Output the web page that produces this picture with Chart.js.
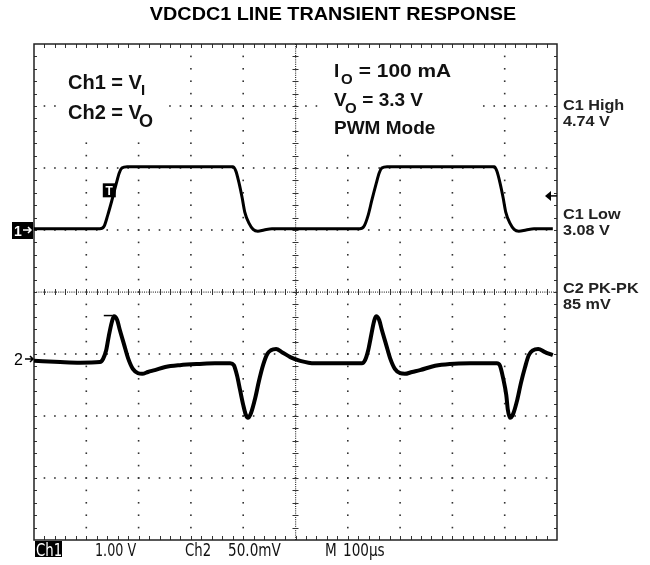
<!DOCTYPE html>
<html>
<head>
<meta charset="utf-8">
<script src="https://cdn.jsdelivr.net/npm/chart.js@4.4.1/dist/chart.umd.min.js"></script>
<style>
html,body{margin:0;padding:0;background:#fff;}
#wrap{width:650px;height:565px;}
</style>
</head>
<body>
<div id="wrap"><canvas id="c" width="650" height="565"></canvas></div>
<script>
// ---- data (time in µs, vertical position in screen divisions) ----
const titleText = 'VDCDC1 LINE TRANSIENT RESPONSE';
const xDivCount = 10;     // horizontal divisions (100 µs each)
const yDivCount = 8;      // vertical divisions
const timePerDiv = 100;   // µs

const ch1Time = [0,126,134,141,149,157,163,168,178,380,386,392,398,403,411,419,428,440,455,623,631,639,646,654,660,665,675,880,885,891,897,902,910,918,927,941,956,992];
const ch1Div  = [1.02,1.02,1.06,1.24,1.48,1.74,1.92,2.0,2.02,2.02,1.95,1.76,1.52,1.29,1.11,1.01,0.98,1.0,1.02,1.02,1.06,1.24,1.48,1.74,1.92,2.0,2.02,2.02,1.95,1.76,1.52,1.29,1.11,1.01,0.98,1.0,1.02,1.02];

const ch2Time = [0,50,88,126,132,138,143,149,153,159,164,172,180,189,199,207,218,231,251,279,317,346,375,382,388,394,400,405,409,415,423,430,438,446,453,463,474,490,509,537,627,633,639,644,650,654,660,665,673,681,690,700,709,723,738,767,795,834,885,891,897,903,906,910,916,924,931,939,946,954,964,977,992];
const ch2Div  = [-1.11,-1.13,-1.14,-1.13,-1.08,-0.94,-0.71,-0.48,-0.39,-0.45,-0.61,-0.84,-1.07,-1.24,-1.31,-1.32,-1.29,-1.26,-1.21,-1.18,-1.16,-1.15,-1.15,-1.18,-1.34,-1.58,-1.82,-1.98,-2.03,-1.95,-1.71,-1.44,-1.18,-1.0,-0.94,-0.92,-0.97,-1.05,-1.11,-1.15,-1.15,-1.10,-0.94,-0.73,-0.48,-0.39,-0.45,-0.61,-0.84,-1.07,-1.24,-1.31,-1.32,-1.29,-1.26,-1.19,-1.16,-1.15,-1.15,-1.19,-1.39,-1.66,-1.90,-2.03,-1.97,-1.74,-1.47,-1.21,-1.02,-0.94,-0.92,-0.97,-1.02];

const ch1Marker = 1.0;    // ground marker level of Ch1 (div)
const ch2Marker = -1.08;  // ground marker level of Ch2 (div)
const trigLevel = 1.55;   // trigger level arrow (div)
const trigTime = 143;     // trigger point (µs)
const trigBoxLevel = 1.64;

const leftLabels = [['Ch1 = V','I'],['Ch2 = V','O']];
const infoLabels = [['I','O',' = 100 mA'],['V','O',' = 3.3 V'],['PWM Mode','','']];
const sideLabels = [['C1 High','4.74 V'],['C1 Low','3.08 V'],['C2 PK-PK','85 mV']];
const bottomLabels = ['Ch1','1.00 V','Ch2','50.0mV','M','100\u00b5s'];

// ---- drawing helpers ----
function txt(ctx, s, x, y, font, color, sx, align){
  ctx.save();
  ctx.font = font; ctx.fillStyle = color; ctx.textBaseline = 'alphabetic';
  ctx.textAlign = align || 'left';
  ctx.translate(x, y); ctx.scale(sx || 1, 1);
  ctx.fillText(s, 0, 0);
  ctx.restore();
}

const graticule = {
  id: 'graticule',
  beforeDatasetsDraw(chart){
    const {ctx, chartArea: a, scales: {x, y}} = chart;
    ctx.save();
    ctx.fillStyle = '#333';
    const minorX = timePerDiv / 5, minorY = 0.2;
    // horizontal dotted lines
    for (let d = -yDivCount/2 + 1; d < yDivCount/2; d++) {
      const py = y.getPixelForValue(d);
      if (d === 0) continue;
      for (let t = minorX; t < xDivCount*timePerDiv; t += minorX) {
        ctx.fillRect(x.getPixelForValue(t) - 0.8, py - 0.8, 1.6, 1.6);
      }
    }
    // vertical dotted lines
    for (let k = 1; k < xDivCount; k++) {
      if (k === xDivCount/2) continue;
      const px = x.getPixelForValue(k*timePerDiv);
      for (let v = -yDivCount/2 + minorY; v < yDivCount/2 - 0.01; v += minorY) {
        ctx.fillRect(px - 0.8, y.getPixelForValue(v) - 0.8, 1.6, 1.6);
      }
    }
    // centre cross
    const cy = y.getPixelForValue(0), cx = x.getPixelForValue(xDivCount*timePerDiv/2);
    for (let p = a.left; p < a.right; p += 2.2) ctx.fillRect(p, cy - 0.5, 1, 1.2);
    for (let p = a.top; p < a.bottom; p += 2.2) ctx.fillRect(cx - 0.5, p, 1.2, 1);
    ctx.strokeStyle = '#333'; ctx.lineWidth = 1;
    ctx.beginPath();
    for (let t = minorX; t < xDivCount*timePerDiv; t += minorX) {
      const px = Math.round(x.getPixelForValue(t)) + 0.5;
      ctx.moveTo(px, cy - 3); ctx.lineTo(px, cy + 3);
      ctx.moveTo(px, a.top); ctx.lineTo(px, a.top + 4);
      ctx.moveTo(px, a.bottom); ctx.lineTo(px, a.bottom - 4);
    }
    for (let v = -yDivCount/2 + minorY; v < yDivCount/2 - 0.01; v += minorY) {
      const py = Math.round(y.getPixelForValue(v)) + 0.5;
      ctx.moveTo(cx - 3, py); ctx.lineTo(cx + 3, py);
      ctx.moveTo(a.left, py); ctx.lineTo(a.left + 3, py);
      ctx.moveTo(a.right, py); ctx.lineTo(a.right - 3, py);
    }
    ctx.stroke();
    // white label backgrounds
    ctx.fillStyle = '#fff';
    ctx.fillRect(58, 52, 108, 86);
    ctx.fillRect(322, 50, 158, 100);
    // frame
    ctx.strokeStyle = '#222'; ctx.lineWidth = 1.5;
    ctx.strokeRect(a.left, a.top, a.right - a.left, a.bottom - a.top);
    ctx.restore();
  },
  afterDraw(chart){
    const {ctx, chartArea: a, scales: {x, y}} = chart;
    const B = 'bold ';
    // title
    txt(ctx, titleText, 333, 20, B + '18px "Liberation Sans", Arial, sans-serif', '#000', 1.1, 'center');
    // left block
    const f20 = B + '20px "Liberation Sans", Arial, sans-serif';
    txt(ctx, leftLabels[0][0], 68, 89, f20, '#111');
    txt(ctx, leftLabels[0][1], 141, 95, B + '15px "Liberation Sans", Arial, sans-serif', '#111');
    txt(ctx, leftLabels[1][0], 68, 119, f20, '#111');
    txt(ctx, leftLabels[1][1], 139, 127, B + '18px "Liberation Sans", Arial, sans-serif', '#111');
    // info block
    const f19 = B + '19px "Liberation Sans", Arial, sans-serif';
    const f15 = B + '15px "Liberation Sans", Arial, sans-serif';
    txt(ctx, infoLabels[0][0], 334, 77, f19, '#111');
    txt(ctx, infoLabels[0][1], 341, 84, f15, '#111');
    txt(ctx, infoLabels[0][2], 353, 77, f19, '#111', 1.1);
    txt(ctx, infoLabels[1][0], 334, 106, f19, '#111');
    txt(ctx, infoLabels[1][1], 345, 113, f15, '#111');
    txt(ctx, infoLabels[1][2], 357, 106, f19, '#111');
    txt(ctx, infoLabels[2][0], 334, 134, f19, '#111');
    // side labels
    const f16 = B + '15px "Liberation Sans", Arial, sans-serif';
    const sideY = [[110,126],[219,235],[293,309]];
    sideLabels.forEach((l, i) => {
      txt(ctx, l[0], 563, sideY[i][0], f16, '#222', 1.08);
      txt(ctx, l[1], 563, sideY[i][1], f16, '#222', 1.08);
    });
    // channel markers
    const m1 = y.getPixelForValue(ch1Marker);
    ctx.fillStyle = '#000';
    ctx.fillRect(12, m1 - 8, 21, 17);
    txt(ctx, '1', 14, m1 + 6, B + '14px "Liberation Sans", Arial, sans-serif', '#fff');
    ctx.strokeStyle = '#fff'; ctx.lineWidth = 1.5; ctx.beginPath();
    ctx.moveTo(23, m1); ctx.lineTo(31, m1); ctx.moveTo(28, m1 - 3); ctx.lineTo(31, m1); ctx.lineTo(28, m1 + 3); ctx.stroke();
    const m2 = y.getPixelForValue(ch2Marker);
    txt(ctx, '2', 14, m2 + 6, '16px "Liberation Sans", Arial, sans-serif', '#000');
    ctx.strokeStyle = '#000'; ctx.beginPath();
    ctx.moveTo(25, m2); ctx.lineTo(33, m2); ctx.moveTo(30, m2 - 3); ctx.lineTo(33, m2); ctx.lineTo(30, m2 + 3); ctx.stroke();
    // trigger level arrow (right)
    const tl = y.getPixelForValue(trigLevel);
    ctx.fillStyle = '#000'; ctx.beginPath();
    ctx.moveTo(545, tl); ctx.lineTo(551, tl - 5); ctx.lineTo(551, tl + 5); ctx.closePath(); ctx.fill();
    ctx.lineWidth = 1.5; ctx.beginPath(); ctx.moveTo(550, tl); ctx.lineTo(a.right, tl); ctx.stroke();
    // trigger box "T"
    const tx = x.getPixelForValue(trigTime), ty = y.getPixelForValue(trigBoxLevel);
    ctx.fillStyle = '#000'; ctx.fillRect(tx - 6, ty - 7, 13, 14);
    txt(ctx, 'T', tx + 0.5, ty + 5, B + '12px "Liberation Sans", Arial, sans-serif', '#fff', 1, 'center');
    // small T cursor on ch2 peak
    const tp = y.getPixelForValue(-0.38);
    ctx.strokeStyle = '#000'; ctx.lineWidth = 1.5; ctx.beginPath();
    ctx.moveTo(tx - 5, tp); ctx.lineTo(tx + 4, tp); ctx.stroke();
    // bottom readout
    const fb = '17px "DejaVu Sans", "Liberation Sans", sans-serif';
    ctx.fillStyle = '#000'; ctx.fillRect(35, 541, 27, 16);
    txt(ctx, bottomLabels[0], 36, 556, fb, '#fff', 0.78);
    txt(ctx, bottomLabels[1], 95, 556, fb, '#111', 0.75);
    txt(ctx, bottomLabels[2], 185, 556, fb, '#111', 0.78);
    txt(ctx, bottomLabels[3], 228, 556, fb, '#111', 0.8);
    txt(ctx, bottomLabels[4], 325, 556, fb, '#111', 0.8);
    txt(ctx, bottomLabels[5], 343, 556, fb, '#111', 0.8);
  }
};

const toPts = (t, v) => t.map((tt, i) => ({x: tt, y: v[i]}));

new Chart(document.getElementById('c'), {
  type: 'line',
  data: {
    datasets: [
      {label: 'Ch1', data: toPts(ch1Time, ch1Div), borderColor: '#000', borderWidth: 3, pointRadius: 0, cubicInterpolationMode: 'monotone', fill: false},
      {label: 'Ch2', data: toPts(ch2Time, ch2Div), borderColor: '#000', borderWidth: 4, pointRadius: 0, cubicInterpolationMode: 'monotone', fill: false}
    ]
  },
  options: {
    responsive: false,
    animation: false,
    devicePixelRatio: 1,
    layout: {padding: {left: 34, right: 93, top: 44, bottom: 25}},
    plugins: {legend: {display: false}, tooltip: {enabled: false}, title: {display: false}},
    scales: {
      x: {type: 'linear', min: 0, max: xDivCount*timePerDiv, display: false},
      y: {type: 'linear', min: -yDivCount/2, max: yDivCount/2, display: false}
    }
  },
  plugins: [graticule]
});
</script>
</body>
</html>
